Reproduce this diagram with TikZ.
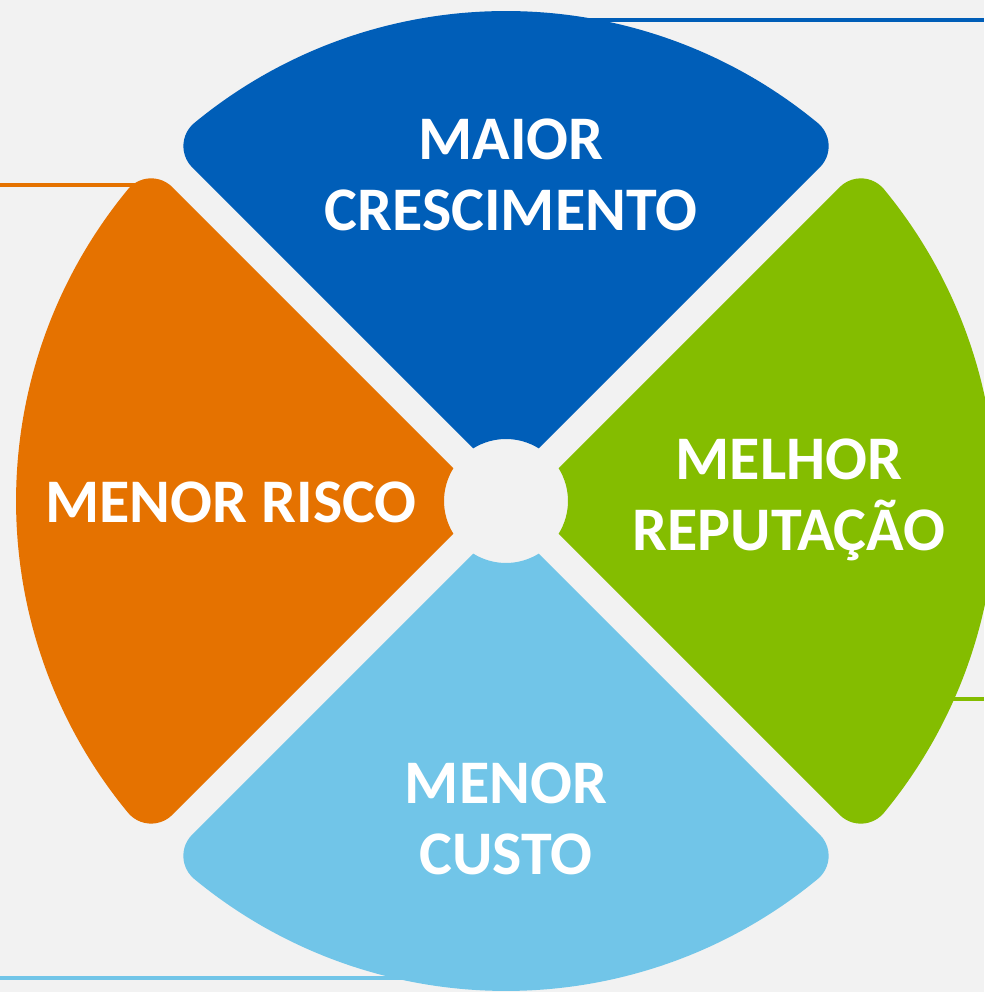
\documentclass[tikz,border=0pt]{standalone}
\usepackage{fontspec}
\setmainfont{Carlito}
\definecolor{bggray}{HTML}{F2F2F2}
\definecolor{blueseg}{HTML}{005EB8}
\definecolor{orangeseg}{HTML}{E57200}
\definecolor{greenseg}{HTML}{84BD00}
\definecolor{skyseg}{HTML}{71C5E8}
\tikzset{
    segtext/.style={text=white, font=\bfseries\fontsize{62}{70.5}\selectfont, align=center, inner sep=0pt, anchor=north},
    stripe/.style={line width=4pt}
}

\begin{document}
\begin{tikzpicture}

% Background and frame
\fill[bggray] (0,0) rectangle (984pt,992pt);
\useasboundingbox (0,0) rectangle (984pt,992pt);
\coordinate (hub) at (506pt,491pt);

% Side stripes (behind the wheel)
\coordinate (blueStart) at (560pt,972pt);
\coordinate (blueEnd) at (984pt,972pt);
\coordinate (orangeStart) at (150pt,806.5pt);
\coordinate (orangeEnd) at (0pt,806.5pt);
\coordinate (greenStart) at (940pt,292.5pt);
\coordinate (greenEnd) at (984pt,292.5pt);
\coordinate (skyStart) at (430pt,13.5pt);
\coordinate (skyEnd) at (0pt,13.5pt);
\draw[stripe, blueseg] (blueStart) -- (blueEnd);
\draw[stripe, orangeseg] (orangeStart) -- (orangeEnd);
\draw[stripe, greenseg] (greenStart) -- (greenEnd);
\draw[stripe, skyseg] (skyStart) -- (skyEnd);

% Wheel segments
\foreach \rot/\col in {0/blueseg, 90/orangeseg, 180/skyseg, 270/greenseg}{
    \fill[\col, shift={(hub)}, rotate=\rot]
        (58.05:62pt) -- (46.75:458.1pt)
        arc[start angle=-45, end angle=50.49, radius=30pt]
        arc[start angle=50.49, end angle=129.51, radius=490pt]
        arc[start angle=129.51, end angle=225, radius=30pt]
        -- (121.95:62pt)
        arc[start angle=121.95, end angle=58.05, radius=62pt] -- cycle;
}

% Labels
\node[segtext] (growth) at (511pt,873pt) {MAIOR\\CRESCIMENTO};
\node[segtext] (risk) at (231pt,510pt) {MENOR RISCO};
\node[segtext] (reputation) at (789pt,553pt) {MELHOR\\REPUTAÇÃO};
\node[segtext] (cost) at (506pt,229pt) {MENOR\\CUSTO};

\end{tikzpicture}
\end{document}
